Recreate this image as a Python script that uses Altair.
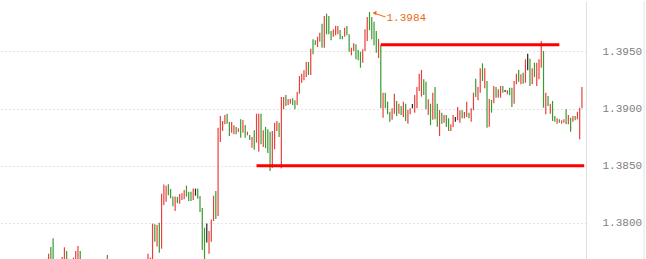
import altair as alt
import pandas as pd

# ---- bar data (index = time slot, high/low of each bar, direction r=up g=down k=flat)
bar_index = [0, 1, 2, 3, 7, 8, 9, 10, 12, 13, 14, 15, 27] + list(range(45, 238))

bar_high = [
    1.37688, 1.37731, 1.37790, 1.37866, 1.37703, 1.37787, 1.37755, 1.37688, 1.37696, 1.37755, 1.37799, 1.37755, 1.37720,
    1.37731, 1.37696, 1.37994, 1.37988, 1.37982, 1.38002, 1.38256, 1.38335, 1.38326, 1.38338,
    1.38297, 1.38230, 1.38230, 1.38227, 1.38253, 1.38259, 1.38288, 1.38326, 1.38273, 1.38273,
    1.38300, 1.38300, 1.38300, 1.38236, 1.38131, 1.37959, 1.37994, 1.37930, 1.38029, 1.38238,
    1.38279, 1.38833, 1.38935, 1.38891, 1.38944, 1.38955, 1.38882, 1.38882, 1.38854, 1.38839,
    1.38827, 1.38906, 1.38900, 1.38856, 1.38798, 1.38769, 1.38751, 1.38810, 1.38955, 1.38955,
    1.38955, 1.38810, 1.38839, 1.38819, 1.38798, 1.38804, 1.38876, 1.38891, 1.38876, 1.39101,
    1.39101, 1.39118, 1.39083, 1.39083, 1.39090, 1.39072, 1.39145, 1.39284, 1.39305, 1.39334,
    1.39407, 1.39407, 1.39523, 1.39605, 1.39597, 1.39628, 1.39663, 1.39742, 1.39809, 1.39829,
    1.39809, 1.39678, 1.39693, 1.39722, 1.39722, 1.39687, 1.39634, 1.39707, 1.39722, 1.39649,
    1.39532, 1.39570, 1.39562, 1.39512, 1.39497, 1.39518, 1.39693, 1.39800, 1.39844, 1.39800,
    1.39759, 1.39678, 1.39608, 1.39555, 1.39139, 1.39139, 1.39060, 1.38972, 1.39002, 1.39130,
    1.39066, 1.39042, 1.39022, 1.39060, 1.39042, 1.38990, 1.39002, 1.39040, 1.39118, 1.39188,
    1.39305, 1.39337, 1.39256, 1.39235, 1.39081, 1.39042, 1.39139, 1.39188, 1.39042, 1.38987,
    1.38964, 1.38944, 1.38944, 1.38915, 1.38862, 1.38944, 1.38926, 1.39014, 1.38985, 1.38985,
    1.38970, 1.39060, 1.38964, 1.39002, 1.39139, 1.39261, 1.39188, 1.39352, 1.39395, 1.39352,
    1.39241, 1.39083, 1.39075, 1.39197, 1.39188, 1.39168, 1.39197, 1.39197, 1.39162, 1.39160,
    1.39182, 1.39182, 1.39241, 1.39305, 1.39337, 1.39299, 1.39313, 1.39430, 1.39479, 1.39436,
    1.39352, 1.39401, 1.39401, 1.39430, 1.39590, 1.39503, 1.39139, 1.39110, 1.39042, 1.39066,
    1.38935, 1.38915, 1.38906, 1.38897, 1.38906, 1.38993, 1.38944, 1.38920, 1.38935, 1.38935,
    1.38972, 1.39007, 1.39188,
]

bar_low = [
    1.3760, 1.3760, 1.3760, 1.3760, 1.3760, 1.3760, 1.3760, 1.3760, 1.3760, 1.3760, 1.3760, 1.3760, 1.3760,
    1.3760, 1.3760, 1.3760, 1.37836, 1.37793, 1.37740, 1.37775, 1.38154, 1.38186, 1.38242,
    1.38216, 1.38146, 1.38105, 1.38172, 1.38168, 1.38201, 1.38207, 1.38230, 1.38192, 1.38192,
    1.38201, 1.38238, 1.38212, 1.38096, 1.37764, 1.3760, 1.37828, 1.37731, 1.37836, 1.38017,
    1.38035, 1.38061, 1.38708, 1.38804, 1.38862, 1.38868, 1.38760, 1.38789, 1.38775, 1.38775,
    1.38795, 1.38745, 1.38789, 1.38745, 1.38766, 1.38725, 1.38658, 1.38640, 1.38702, 1.38623,
    1.38688, 1.38664, 1.38653, 1.38612, 1.38454, 1.38483, 1.38644, 1.38804, 1.38751, 1.38478,
    1.38993, 1.39022, 1.39031, 1.39042, 1.39031, 1.38993, 1.39031, 1.39130, 1.39226, 1.39247,
    1.39276, 1.39293, 1.39293, 1.39474, 1.39555, 1.39538, 1.39584, 1.39532, 1.39532, 1.39649,
    1.39649, 1.39597, 1.39628, 1.39640, 1.39649, 1.39605, 1.39605, 1.39628, 1.39640, 1.39497,
    1.39465, 1.39503, 1.39430, 1.39422, 1.39357, 1.39401, 1.39503, 1.39590, 1.39684, 1.39605,
    1.39553, 1.39488, 1.39442, 1.39002, 1.38920, 1.39002, 1.38950, 1.38885, 1.38903, 1.38955,
    1.38935, 1.38955, 1.38944, 1.38926, 1.38891, 1.38868, 1.38950, 1.39002, 1.38964, 1.39002,
    1.39153, 1.39104, 1.39118, 1.38993, 1.38944, 1.38856, 1.38903, 1.38906, 1.38841, 1.38760,
    1.38868, 1.38876, 1.38839, 1.38804, 1.38804, 1.38839, 1.38885, 1.38897, 1.38876, 1.38915,
    1.38915, 1.38926, 1.38915, 1.38885, 1.38985, 1.39101, 1.39072, 1.39139, 1.39241, 1.39177,
    1.38833, 1.38841, 1.38964, 1.39046, 1.39095, 1.39095, 1.39095, 1.39139, 1.39145, 1.39125,
    1.39116, 1.39014, 1.39042, 1.39212, 1.39235, 1.39212, 1.39217, 1.39226, 1.39334, 1.39197,
    1.39212, 1.39276, 1.39197, 1.39256, 1.39357, 1.39007, 1.38950, 1.39022, 1.38955, 1.38891,
    1.38885, 1.38868, 1.38876, 1.38868, 1.38876, 1.38862, 1.38862, 1.38798, 1.38885, 1.38897,
    1.38906, 1.38731, 1.39002,
]

bar_dir = list(
    "rrggrrgrrrrgg"
    "rrrgrgrrrg" "ggrgrrrggg" "rkggggkrrr" "grrrrggrrg" "rgrgrgrgrr"
    "grgggrrrgr" "rgrrggrrrr" "rgrggrrgrg" "ggrrrggrgg" "rrgggrrrgg"
    "ggrgrgggrr" "grgrgrrkrr" "rrggrgrggr" "grggrrkrrg" "rrgrrgrrgr"
    "grgrgrrgkr" "ggrrgrgrkg" "rgrrrgrgrg" "grgrrgrgrg" "rrr"
)

# ---- horizontal support / resistance lines
line_start = [148, 93]
line_end = [227, 238]
line_level = [1.39558, 1.38500]

y_ticks = [1.3800, 1.3850, 1.3900, 1.3950]

RED = "#e8413c"
GREEN = "#3a9a30"
ORANGE = "#ee6a12"

df = pd.DataFrame({"i": bar_index, "high": bar_high, "low": bar_low, "dir": bar_dir})
lines = pd.DataFrame({"x": line_start, "x2": line_end, "y": line_level})
peak_row = df.loc[df["high"].idxmax()]
peak = pd.DataFrame({"i": [peak_row["i"]], "v": [peak_row["high"]],
                     "label": [f"{peak_row['high']:.4f}"]})

xs = alt.Scale(domain=[-20.5, 238.8], nice=False, zero=False)
ys = alt.Scale(domain=[1.37676, 1.39940], nice=False, zero=False)
y_axis = alt.Axis(orient="right", values=y_ticks, format=".4f", title=None,
                  ticks=False, domain=True, domainColor="#e0e0e0", domainWidth=1,
                  grid=True, gridColor="#c8c8c8", gridDash=[1, 3], gridWidth=1,
                  labelPadding=16, labelAlign="left", labelColor="#808080",
                  labelFont="Liberation Mono", labelFontSize=11)

bars = alt.Chart(df).mark_rule(strokeWidth=1.2, clip=True).encode(
    x=alt.X("i:Q", scale=xs, axis=None),
    y=alt.Y("high:Q", scale=ys, axis=y_axis),
    y2="low:Q",
    color=alt.Color("dir:N", scale=alt.Scale(domain=["r", "g", "k"],
                                            range=[RED, GREEN, "#222222"]), legend=None),
)

hlines = alt.Chart(lines).mark_rule(strokeWidth=3, color="#ff0000").encode(
    x=alt.X("x:Q", scale=xs, axis=None),
    x2="x2:Q",
    y=alt.Y("y:Q", scale=ys, axis=y_axis),
)

ann_tri = alt.Chart(peak).mark_point(shape="triangle-left", filled=True, size=22,
                                     color=ORANGE, opacity=1, xOffset=5, yOffset=1).encode(
    x=alt.X("i:Q", scale=xs, axis=None),
    y=alt.Y("v:Q", scale=ys, axis=y_axis),
)

ann_line = alt.Chart(peak).mark_rule(color=ORANGE, strokeWidth=1,
                                     xOffset=7, x2Offset=16, yOffset=2, y2Offset=5).encode(
    x=alt.X("i:Q", scale=xs, axis=None),
    x2="i:Q",
    y=alt.Y("v:Q", scale=ys, axis=y_axis),
    y2="v:Q",
)

ann_text = alt.Chart(peak).mark_text(align="left", baseline="middle", dx=17, dy=6,
                                     font="Liberation Mono", fontSize=11, color=ORANGE).encode(
    x=alt.X("i:Q", scale=xs, axis=None),
    y=alt.Y("v:Q", scale=ys, axis=y_axis),
    text="label:N",
)

edge = alt.Chart(peak).mark_rule(color="#e4e4e4", strokeWidth=1).encode(
    x=alt.value(644), y=alt.value(0), y2=alt.value(259)
)

chart = alt.layer(bars, hlines, ann_tri, ann_line, ann_text, edge).properties(
    width=586, height=259, padding=0, background="white"
).configure_view(stroke=None)

chart.save("out.html", embed_options={"renderer": "svg", "actions": False})
